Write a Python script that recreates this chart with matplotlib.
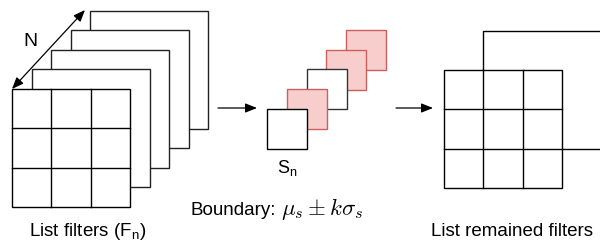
import matplotlib.pyplot as plt
from matplotlib.patches import Rectangle

# stack sizes and fills (front -> back)
left_stack = 5
left_origin = (12, 89)
big_size = 118
left_step = 19.6

mid_fills = ['white', '#f8cecc', 'white', '#f8cecc', '#f8cecc']
mid_edges = ['black', '#c96060', '#333333', '#c96060', '#c96060']
mid_origin = (267, 109)
small_size = 40
mid_step = 19.8

right_origin = (444, 70)
right_back = (483, 31)

labels = ['List filters (F$_\\mathregular{n}$)', 'List remained filters']
boundary_txt = 'Boundary:'
boundary_math = r'$\mu_s \pm k\sigma_s$'

plt.rcParams['font.family'] = ['Liberation Sans', 'DejaVu Sans']

fig = plt.figure(figsize=(6, 2.43), dpi=100)
ax = fig.add_axes([0, 0, 1, 1])
ax.set_xlim(0, 600)
ax.set_ylim(243, 0)
ax.axis('off')

arrow_style = '-|>,head_length=0.7,head_width=0.28'


def grid3(ax, x0, y0, size):
    ax.add_patch(Rectangle((x0, y0), size, size, fc='white', ec='black', lw=1))
    c = size / 3
    for k in (1, 2):
        ax.plot([x0 + k * c, x0 + k * c], [y0, y0 + size], color='black', lw=1)
        ax.plot([x0, x0 + size], [y0 + k * c, y0 + k * c], color='black', lw=1)


# left stack: back squares first
for i in range(left_stack - 1, 0, -1):
    x = left_origin[0] + i * left_step
    y = left_origin[1] - i * left_step
    ax.add_patch(Rectangle((x, y), big_size, big_size, fc='white', ec='#222222', lw=1))
grid3(ax, left_origin[0], left_origin[1], big_size)

ax.annotate('', xy=(left_origin[0], left_origin[1]), xytext=(85, 10),
            arrowprops=dict(arrowstyle='<|-|>,head_length=0.7,head_width=0.28',
                            color='black', lw=0.9,
                            mutation_scale=10, shrinkA=0, shrinkB=0))
ax.text(30, 41, 'N', fontsize=14, ha='center', va='center')

# middle stack
for i in range(len(mid_fills) - 1, -1, -1):
    x = mid_origin[0] + i * mid_step
    y = mid_origin[1] - i * mid_step
    ax.add_patch(Rectangle((x, y), small_size, small_size,
                           fc=mid_fills[i], ec=mid_edges[i], lw=1))
ax.text(287, 168, 'S$_\\mathregular{n}$', fontsize=13, ha='center', va='center')

# arrows
for x0, x1 in [(218, 257), (396, 433)]:
    ax.annotate('', xy=(x1, 108), xytext=(x0, 108),
                arrowprops=dict(arrowstyle=arrow_style, color='black', lw=0.9,
                                mutation_scale=10, shrinkA=0, shrinkB=0))

# right stack
ax.add_patch(Rectangle(right_back, big_size, big_size, fc='white', ec='black', lw=1))
grid3(ax, right_origin[0], right_origin[1], big_size)

# labels
ax.text(88, 231, labels[0], fontsize=13.5, ha='center', va='center')
ax.text(512, 231, labels[1], fontsize=13.5, ha='center', va='center')
ax.text(191, 215, boundary_txt, fontsize=13.5, ha='left', va='baseline')
ax.text(281, 215, boundary_math, fontsize=16.5, ha='left', va='baseline',
        math_fontfamily='cm')

fig.savefig('out.png', dpi=100)
